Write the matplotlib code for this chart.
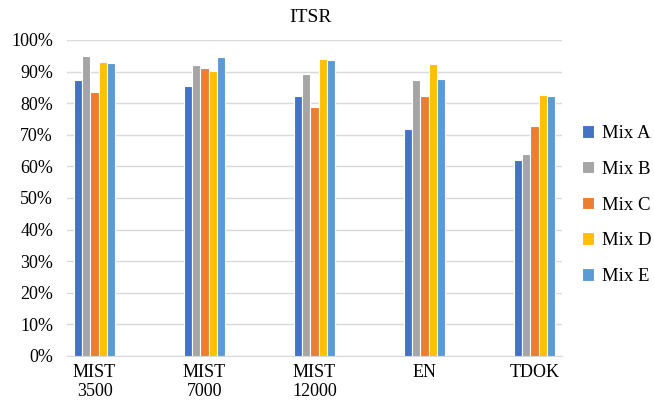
import matplotlib
matplotlib.use("Agg")
import matplotlib.pyplot as plt
import numpy as np
from matplotlib.ticker import PercentFormatter

categories = ["MIST\n3500", "MIST\n7000", "MIST\n12000", "EN", "TDOK"]
series_names = ["Mix A", "Mix B", "Mix C", "Mix D", "Mix E"]
mix_a = [87.3, 85.5, 82.2, 71.7, 62.1]
mix_b = [94.8, 92.0, 89.2, 87.2, 63.8]
mix_c = [83.5, 91.1, 78.7, 82.4, 72.7]
mix_d = [93.0, 90.2, 93.9, 92.4, 82.6]
mix_e = [92.7, 94.6, 93.6, 87.6, 82.2]
colors = ["#4472C4", "#A5A5A5", "#ED7D31", "#FFC000", "#5B9BD5"]

plt.rcParams['font.family'] = ['Liberation Serif', 'DejaVu Serif']

fig = plt.figure(figsize=(6.54, 4.09), dpi=100)
ax = fig.add_axes([67/654, 1-356/409, 495/654, 316/409])

x = np.arange(len(categories))
w = 0.075
data = [mix_a, mix_b, mix_c, mix_d, mix_e]
for i, (vals, name, c) in enumerate(zip(data, series_names, colors)):
    ax.bar(x + (i - 2) * w, vals, width=w, color=c, edgecolor='white',
           linewidth=0.8, label=name, zorder=3)

ax.set_ylim(0, 100)
ax.set_xlim(-0.25, 4.25)
ax.set_yticks(np.arange(0, 101, 10))
ax.yaxis.set_major_formatter(PercentFormatter(decimals=0))
ax.set_xticks(x)
ax.set_xticklabels(categories, fontsize=13, linespacing=1.1)
ax.tick_params(axis='y', labelsize=13, length=0, pad=10)
ax.tick_params(axis='x', length=0, pad=6)
ax.grid(axis='y', color='#D9D9D9', linewidth=1, zorder=0)
for s in ['top', 'right', 'left']:
    ax.spines[s].set_visible(False)
ax.spines['bottom'].set_color('#D9D9D9')
ax.spines['bottom'].set_zorder(0)

fig.text(310/654, 1-18/409, "ITSR", ha='center', va='center', fontsize=14)

leg = ax.legend(loc='center left', bbox_to_anchor=(582/654, 1-205/409), bbox_transform=fig.transFigure,
                frameon=False, fontsize=13.5, handlelength=0.65, handleheight=0.65,
                handletextpad=0.4, labelspacing=1.0, borderpad=0, borderaxespad=0)

fig.savefig("out.png", dpi=100)
